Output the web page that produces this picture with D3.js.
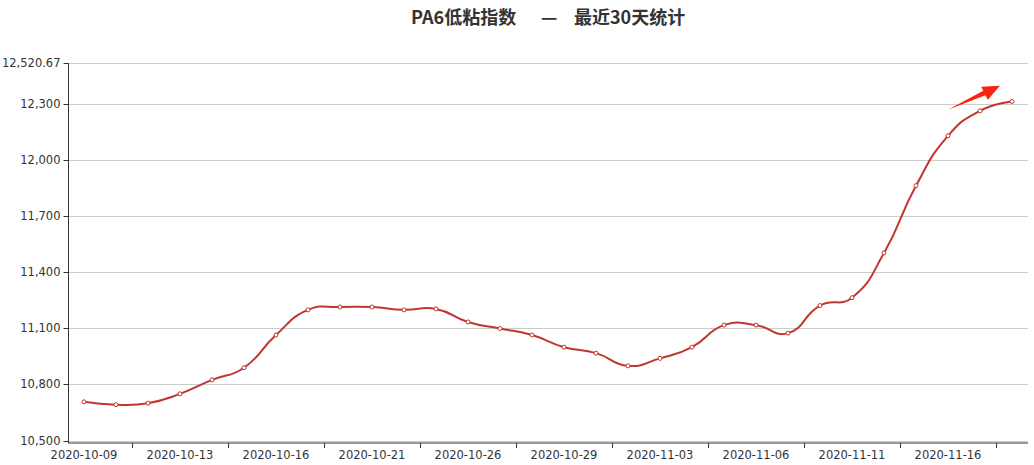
<!DOCTYPE html>
<html>
<head>
<meta charset="utf-8">
<script src="https://cdn.jsdelivr.net/npm/d3@7"></script>
<style>
  body { margin: 0; background: #fff; }
  svg { display: block; }
</style>
</head>
<body>
<svg width="1034" height="465"></svg>
<script>
// chart data
const dates = [
  "2020-10-09", "2020-10-10", "2020-10-12", "2020-10-13", "2020-10-14", "2020-10-15",
  "2020-10-16", "2020-10-19", "2020-10-20", "2020-10-21", "2020-10-22", "2020-10-23",
  "2020-10-26", "2020-10-27", "2020-10-28", "2020-10-29", "2020-10-30", "2020-11-02",
  "2020-11-03", "2020-11-04", "2020-11-05", "2020-11-06", "2020-11-09", "2020-11-10",
  "2020-11-11", "2020-11-12", "2020-11-13", "2020-11-16", "2020-11-17", "2020-11-18"
]
const values = [
  10707, 10692, 10700, 10750, 10825, 10890,
  11065, 11200, 11215, 11215, 11200, 11205,
  11135, 11100, 11065, 11000, 10968, 10900,
  10940, 11000, 11118, 11118, 11075, 11223,
  11265, 11505, 11865, 12132, 12266, 12316
]
const yMin = 10500
const yMax = 12520.67
const yTicks = [10500, 10800, 11100, 11400, 11700, 12000, 12300, 12520.67]
const titleParts = ["PA6低粘指数", "—", "最近30天统计"]

const width = 1034
const height = 465
const grid = {left: 68, right: 1028, top: 63.3, bottom: 440.5}

const svg = d3.select("svg")

const x = d3.scaleBand()
  .domain(dates)
  .range([grid.left, grid.right])
const y = d3.scaleLinear()
  .domain([yMin, yMax])
  .range([grid.bottom, grid.top])

const cx = d => x(d) + x.bandwidth() / 2

// title
const title = svg.append("text")
  .attr("y", 24)
  .style("font-family", "'Noto Sans CJK SC', sans-serif")
  .style("font-weight", "bold")
  .style("font-size", "18px")
  .style("fill", "#333")
title.append("tspan").attr("x", 411).text(titleParts[0])
title.append("tspan").attr("x", 541).text(titleParts[1])
title.append("tspan").attr("x", 574).text(titleParts[2])

// grid lines
svg.append("g")
  .selectAll("line")
  .data(yTicks)
  .join("line")
  .attr("x1", grid.left)
  .attr("x2", grid.right)
  .attr("y1", d => Math.round(y(d)) + 0.5)
  .attr("y2", d => Math.round(y(d)) + 0.5)
  .attr("stroke", "#ccc")

// y axis
const yAxis = d3.axisLeft(y)
  .tickValues(yTicks)
  .tickFormat(d3.format(","))
  .tickSize(5)
  .tickPadding(3)
const yg = svg.append("g")
  .attr("transform", "translate(" + (grid.left + 0.5) + ",0)")
  .call(yAxis)
yg.select(".domain").attr("stroke", "#333").attr("d", "M0," + grid.top + "V" + (grid.bottom + 2.5))
yg.selectAll(".tick line").attr("stroke", "#333")
yg.selectAll(".tick").attr("transform", d => "translate(0," + (Math.round(y(d)) + 0.5) + ")")
yg.selectAll("text")
  .style("font-family", "'DejaVu Sans', sans-serif")
  .style("font-size", "11.5px")
  .style("fill", "#333")

// x axis (labels every 3rd category, ticks on band boundaries)
const xAxisY = grid.bottom + 2.5
const xg = svg.append("g")
xg.append("line")
  .attr("x1", grid.left)
  .attr("x2", grid.right)
  .attr("y1", xAxisY)
  .attr("y2", xAxisY)
  .attr("stroke", "#333")
const labelDates = dates.filter((d, i) => i % 3 === 0)
xg.selectAll(".tk")
  .data(dates.filter((d, i) => i % 3 === 2))
  .join("line")
  .attr("class", "tk")
  .attr("x1", d => Math.round(x(d)) + 0.5)
  .attr("x2", d => Math.round(x(d)) + 0.5)
  .attr("y1", xAxisY)
  .attr("y2", xAxisY + 5)
  .attr("stroke", "#333")
xg.selectAll("text")
  .data(labelDates)
  .join("text")
  .attr("x", d => cx(d))
  .attr("y", xAxisY + 16)
  .attr("text-anchor", "middle")
  .style("font-family", "'DejaVu Sans', sans-serif")
  .style("font-size", "11.5px")
  .style("fill", "#333")
  .text(d => d)

// smooth line like echarts (smooth = 0.5)
function smoothPath(pts, smooth) {
  const n = pts.length
  const cps = []
  for (let i = 0; i < n; i++) {
    const p = pts[i]
    if (i === 0 || i === n - 1) { cps.push([p, p]); continue }
    const prev = pts[i - 1], next = pts[i + 1]
    const vx = (next[0] - prev[0]) * smooth, vy = (next[1] - prev[1]) * smooth
    const d0 = Math.hypot(p[0] - prev[0], p[1] - prev[1])
    const d1 = Math.hypot(p[0] - next[0], p[1] - next[1])
    const s = d0 + d1
    const r0 = d0 / s, r1 = d1 / s
    cps.push([[p[0] - vx * r0, p[1] - vy * r0], [p[0] + vx * r1, p[1] + vy * r1]])
  }
  const path = d3.path()
  path.moveTo(pts[0][0], pts[0][1])
  for (let i = 1; i < n; i++) {
    const c1 = cps[i - 1][1], c2 = cps[i][0]
    path.bezierCurveTo(c1[0], c1[1], c2[0], c2[1], pts[i][0], pts[i][1])
  }
  return path.toString()
}

const pts = dates.map((d, i) => [cx(d), y(values[i])])

svg.append("path")
  .attr("d", smoothPath(pts, 0.5))
  .attr("fill", "none")
  .attr("stroke", "#c23531")
  .attr("stroke-width", 2)

svg.append("g")
  .selectAll("circle")
  .data(pts)
  .join("circle")
  .attr("cx", d => d[0])
  .attr("cy", d => d[1])
  .attr("r", 2)
  .attr("fill", "#fff")
  .attr("stroke", "#c23531")
  .attr("stroke-width", 1)

// red trend arrow near the latest points
const arrowAnchor = [cx(dates[27]), y(values[28]) - 1]
const arrowShape = [[0, 0], [37.4, -14.5], [39.8, -10], [52, -24], [33.2, -23], [35.3, -19.1]]
svg.append("path")
  .attr("d", d3.line()(arrowShape.map(p => [arrowAnchor[0] + p[0], arrowAnchor[1] + p[1]])) + "Z")
  .attr("fill", "#fe2311")
</script>
</body>
</html>
